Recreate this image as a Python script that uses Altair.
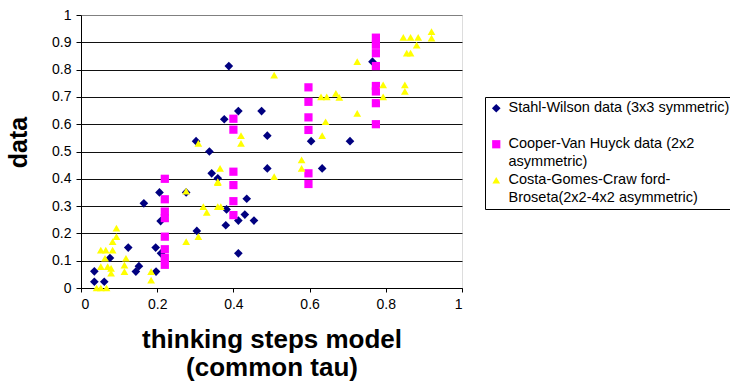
import altair as alt
import pandas as pd

# Series names (first line of each legend entry)
SW = "Stahl-Wilson data (3x3 symmetric)"
CVH = "Cooper-Van Huyck data (2x2"
CGCB = "Costa-Gomes-Craw ford-"

# Stahl-Wilson data (3x3 symmetric): model prediction vs. observed
sw_model = [0.035, 0.035, 0.061, 0.076, 0.124, 0.152, 0.144, 0.165, 0.206, 0.209,
            0.196, 0.21, 0.197, 0.435, 0.382, 0.43, 0.413, 0.454, 0.38, 0.304,
            0.413, 0.276, 0.413, 0.474, 0.376, 0.489, 0.302, 0.337, 0.489, 0.343,
            0.359, 0.388, 0.765, 0.604, 0.706, 0.633]
sw_data = [0.061, 0.023, 0.023, 0.11, 0.148, 0.08, 0.06, 0.31, 0.35, 0.245,
           0.148, 0.127, 0.06, 0.327, 0.288, 0.269, 0.247, 0.247, 0.23, 0.209,
           0.127, 0.35, 0.648, 0.648, 0.618, 0.558, 0.538, 0.5, 0.438, 0.42,
           0.402, 0.813, 0.829, 0.538, 0.538, 0.438]

# Cooper-Van Huyck data (2x2 asymmetric)
cvh_model = [0.22, 0.22, 0.22, 0.22, 0.22, 0.22, 0.22, 0.22,
             0.40, 0.40, 0.40, 0.40, 0.40, 0.40,
             0.597, 0.597, 0.597, 0.597, 0.597, 0.597,
             0.774, 0.774, 0.774, 0.774, 0.774, 0.774, 0.774, 0.774]
cvh_data = [0.40, 0.325, 0.28, 0.256, 0.188, 0.142, 0.11, 0.085,
            0.62, 0.58, 0.426, 0.377, 0.318, 0.267,
            0.735, 0.682, 0.625, 0.579, 0.42, 0.381,
            0.917, 0.891, 0.86, 0.813, 0.74, 0.72, 0.677, 0.60]

# Costa-Gomes-Crawford-Broseta (2x2-4x2 asymmetric)
cg_model = [0.093, 0.093, 0.083, 0.083, 0.052, 0.065, 0.063, 0.052, 0.07, 0.079,
            0.079, 0.118, 0.114, 0.114, 0.184, 0.184, 0.041, 0.052, 0.067,
            0.276, 0.276, 0.359, 0.321, 0.33, 0.359, 0.367, 0.308, 0.507,
            0.42, 0.42, 0.308, 0.365, 0.359, 0.507,
            0.63, 0.645, 0.669, 0.678, 0.725, 0.642, 0.633, 0.579, 0.579, 0.793,
            0.725, 0.846, 0.865, 0.885, 0.92, 0.92, 0.881, 0.855, 0.865, 0.793,
            0.85, 0.85]
cg_data = [0.219, 0.188, 0.17, 0.139, 0.139, 0.139, 0.109, 0.078, 0.078, 0.072,
           0.054, 0.109, 0.084, 0.06, 0.06, 0.029, 0.0, 0.0, 0.0,
           0.355, 0.17, 0.386, 0.298, 0.277, 0.298, 0.298, 0.188, 0.408,
           0.558, 0.53, 0.53, 0.438, 0.39, 0.78,
           0.70, 0.70, 0.713, 0.698, 0.64, 0.609, 0.558, 0.469, 0.438, 0.70,
           0.829, 0.918, 0.918, 0.918, 0.939, 0.915, 0.89, 0.86, 0.86, 0.744,
           0.744, 0.72]

x_ticks = [0, 0.2, 0.4, 0.6, 0.8, 1]
y_ticks = [0, 0.1, 0.2, 0.3, 0.4, 0.5, 0.6, 0.7, 0.8, 0.9, 1]

series_order = [SW, CVH, CGCB]
series_colors = ["#000080", "#FF00FF", "#FFFF00"]
series_shapes = ["diamond", "square", "triangle-up"]
series_sizes = [75, 60, 110]

df = pd.concat([
    pd.DataFrame({"model": sw_model, "data": sw_data, "series": SW}),
    pd.DataFrame({"model": cvh_model, "data": cvh_data, "series": CVH}),
    pd.DataFrame({"model": cg_model, "data": cg_data, "series": CGCB}),
], ignore_index=True)

FONT = "Liberation Sans"

# Legend entries wrap onto a second line; the first one gets a blank second line
label_expr = (
    f"datum.value == '{SW}' ? ['{SW}', ' '] : "
    f"datum.value == '{CVH}' ? ['{CVH}', 'asymmetric)'] : "
    f"['{CGCB}', 'Broseta(2x2-4x2 asymmetric)']"
)

legend = alt.Legend(
    title=None,
    orient="none",
    legendX=404,
    legendY=82,
    fillColor="white",
    strokeColor="black",
    padding=4,
    rowPadding=3,
    symbolSize=40,
    symbolStrokeWidth=0,
    labelFont=FONT,
    labelFontSize=14.5,
    labelColor="black",
    labelBaseline="middle",
    labelOffset=5,
    labelLimit=400,
    labelExpr=label_expr,
)

chart = alt.Chart(df).mark_point(filled=True, opacity=1, strokeWidth=0).encode(
    x=alt.X(
        "model:Q",
        scale=alt.Scale(domain=[0, 1], nice=False),
        axis=alt.Axis(
            values=x_ticks,
            format="~g",
            grid=False,
            domainColor="black",
            tickColor="black",
            tickSize=4,
            labelFont=FONT,
            labelFontSize=14,
            labelColor="black",
            labelPadding=5,
            title=["thinking steps model", "(common tau)"],
            titleFont=FONT,
            titleFontSize=26,
            titleFontWeight="bold",
            titleColor="black",
            titleLineHeight=28,
            titlePadding=15,
        ),
    ),
    y=alt.Y(
        "data:Q",
        scale=alt.Scale(domain=[0, 1], nice=False),
        axis=alt.Axis(
            values=y_ticks,
            format=".1~f",
            grid=True,
            gridColor={"condition": {"test": "datum.value >= 1", "value": "#808080"},
                       "value": "#111111"},
            gridWidth=1,
            domainColor="black",
            tickColor="black",
            tickSize=5,
            labelFont=FONT,
            labelFontSize=14,
            labelColor="black",
            labelPadding=5,
            title="data",
            titleFont=FONT,
            titleFontSize=25,
            titleFontWeight="bold",
            titleColor="black",
            titlePadding=20,
            titleY=127,
        ),
    ),
    color=alt.Color("series:N", scale=alt.Scale(domain=series_order, range=series_colors),
                    legend=legend),
    shape=alt.Shape("series:N", scale=alt.Scale(domain=series_order, range=series_shapes),
                    legend=legend),
    size=alt.Size("series:N", scale=alt.Scale(domain=series_order, range=series_sizes),
                  legend=None),
).properties(
    width=381,
    height=273,
    autosize=alt.AutoSizeParams(type="none"),
    padding={"left": 81, "top": 15, "right": 268, "bottom": 94},
    background="white",
).configure_view(
    fill="#C0C0C0",
    stroke="#808080",
    strokeWidth=1,
).configure(
    style={"guide-label": {"lineHeight": 18}},
)

chart.save("out.html", embed_options={"renderer": "svg", "actions": False})
